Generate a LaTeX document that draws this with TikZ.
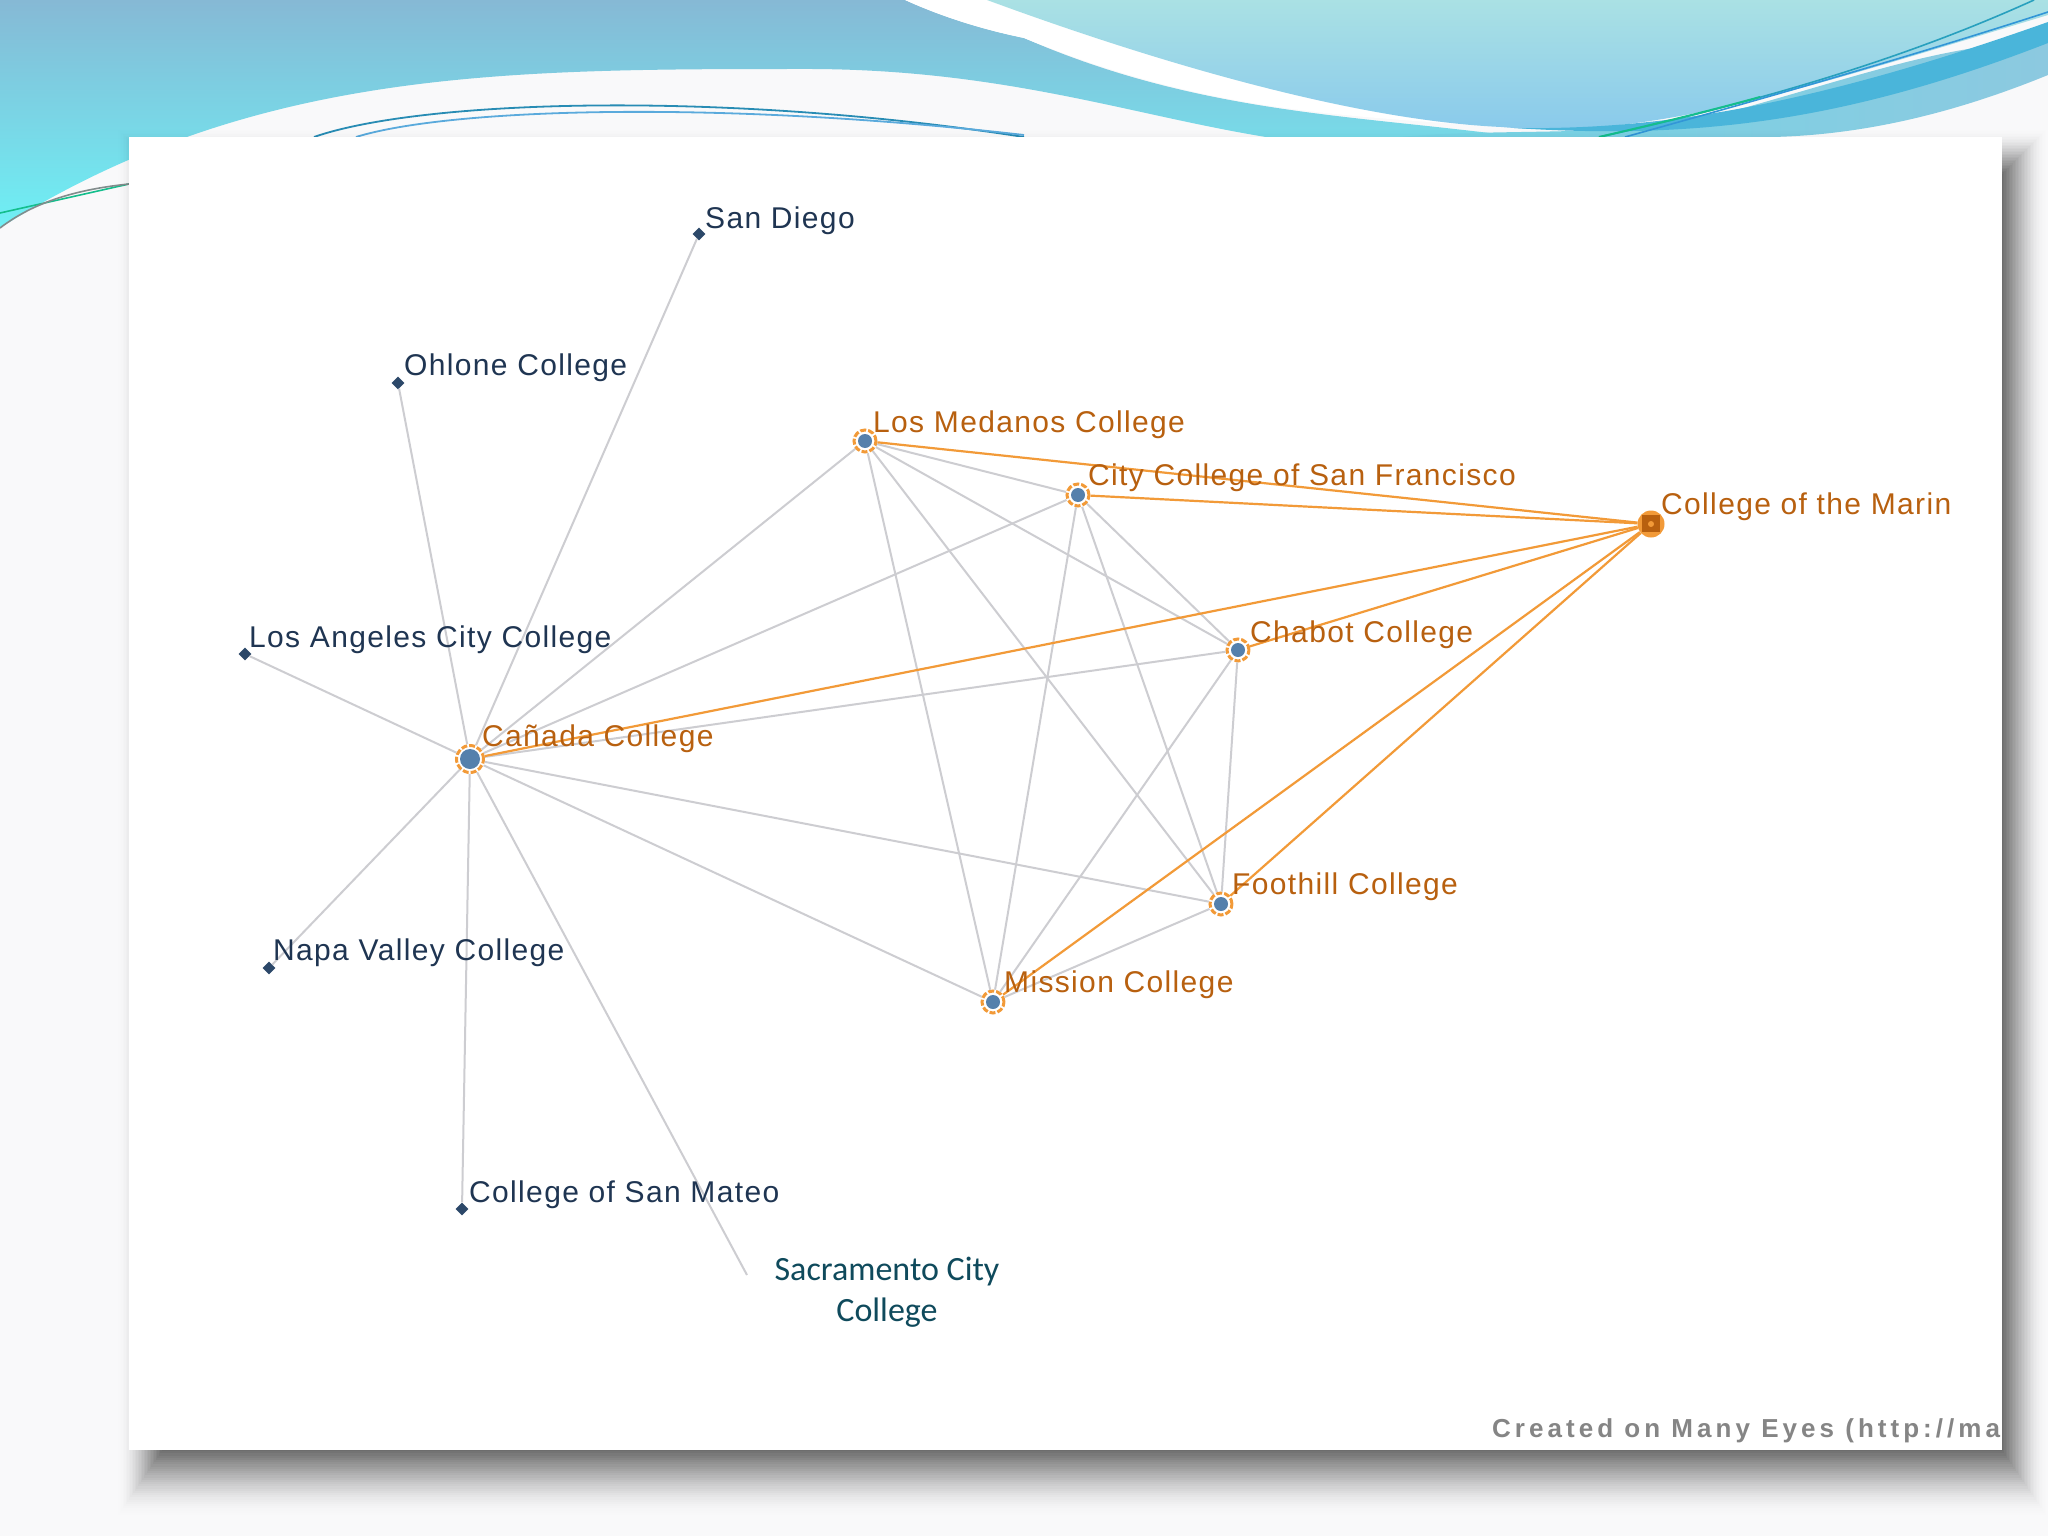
\documentclass[tikz,border=0pt]{standalone}
\usepackage{fontspec}
\usetikzlibrary{shapes.geometric}
\setmainfont{Liberation Sans}
\newfontfamily\calfont{Carlito}
\newfontfamily\labfont[LetterSpace=4.5]{Liberation Sans}
\newfontfamily\creditfont[LetterSpace=15.5]{Liberation Sans}
\definecolor{pagebg}{HTML}{F9F9FA}
\definecolor{edgegrey}{HTML}{CDCDD1}
\definecolor{edgeorange}{HTML}{F29A38}
\definecolor{laborange}{HTML}{B8600F}
\definecolor{labnavy}{HTML}{1F3552}
\definecolor{dotblue}{HTML}{5580AC}
\definecolor{sacteal}{HTML}{0F4A5C}
\definecolor{leftTop}{HTML}{86B9D5}
\definecolor{leftBot}{HTML}{6EF0F5}
\definecolor{skyTop}{HTML}{AAE1E4}
\definecolor{skyBot}{HTML}{87C8EC}
\definecolor{cyanband}{HTML}{75D5E5}
\definecolor{paleband}{HTML}{8CC9E0}
\definecolor{ribbonblue}{HTML}{4AB5DA}
\definecolor{lineA}{HTML}{28A0BE}
\definecolor{lineB}{HTML}{3296D7}
\definecolor{lineC}{HTML}{288CB4}
\definecolor{lineD}{HTML}{5AAADC}
\definecolor{lineE}{HTML}{14BE8C}
\definecolor{lineF}{HTML}{828C8C}
\tikzset{
 smalldot/.style={diamond, fill=labnavy!75!dotblue, inner sep=0pt, minimum size=13pt},
 hubdot/.style={circle, fill=white, draw=edgeorange, line width=3pt, dash pattern=on 6pt off 2pt, inner sep=0pt, minimum size=22pt,
  path picture={\fill[dotblue] (path picture bounding box.center) circle (7pt);}},
 bighub/.style={hubdot, minimum size=27pt,
  path picture={\fill[dotblue] (path picture bounding box.center) circle (10pt);}},
 hothub/.style={circle, fill=edgeorange, inner sep=0pt, minimum size=27pt,
  path picture={\fill[laborange] ([shift={(-9pt,-8pt)}]path picture bounding box.center) rectangle ([shift={(9pt,9pt)}]path picture bounding box.center);
   \fill[edgeorange] (path picture bounding box.center) circle (3pt);}},
 namelab/.style={anchor=west, inner sep=0pt, font=\labfont\fontsize{30}{30}\selectfont, text=labnavy},
 hotlab/.style={namelab, text=laborange},
 greyedge/.style={edgegrey, line width=2pt},
 hotedge/.style={edgeorange, line width=2.2pt},
}
\begin{document}
\begin{tikzpicture}[x=1pt,y=-1pt]
\useasboundingbox (0,0) rectangle (2048,1536);
\fill[pagebg] (0,0) rectangle (2048,1536);
% band left of the dip
\shade[top color=leftTop, bottom color=leftBot]
 (0,0) -- (905,0) .. controls (960,25) and (1010,35) .. (1024,38)
 .. controls (1200,115) and (1360,115) .. (1520,137) -- (1266,137)
 .. controls (1130,115) and (1000,68) .. (800,69)
 .. controls (500,69) and (250,70) .. (0,228) -- cycle;
% white ribbon
\fill[white] (905,0) .. controls (960,25) and (1010,35) .. (1024,38)
 .. controls (1200,110) and (1330,115) .. (1501,127)
 .. controls (1350,90) and (1150,45) .. (987,0) -- cycle;
% sky on the right
\shade[top color=skyTop, bottom color=skyBot]
 (987,0) .. controls (1150,60) and (1350,120) .. (1501,127)
 .. controls (1650,140) and (1800,90) .. (2048,15) -- (2048,0) -- cycle;
% lower cyan
\shade[left color=cyanband, right color=paleband]
 (1400,137) .. controls (1500,128) and (1600,137) .. (1700,120)
 .. controls (1850,80) and (1950,40) .. (2048,43) -- (2048,75) .. controls (1950,115) and (1860,135) .. (1772,137) -- cycle;
% blue ribbon
\fill[ribbonblue] (1514,128) .. controls (1650,130) and (1800,110) .. (2048,22)
 -- (2048,43) .. controls (1850,120) and (1700,140) .. (1514,128) -- cycle;
% thin lines
\draw[lineA, line width=1.6pt] (1599,137) .. controls (1720,110) and (1880,70) .. (2034,0);
\draw[lineB, line width=1.6pt] (1625,137) .. controls (1740,105) and (1900,60) .. (2048,12);
\draw[lineE, line width=2pt] (1599,137) .. controls (1647,126) and (1702,113) .. (1760,97);
\draw[lineC, line width=1.8pt] (314,137) .. controls (420,100) and (720,90) .. (1024,137);
\draw[lineD, line width=1.8pt] (356,137) .. controls (450,108) and (720,100) .. (1024,135);
\draw[lineE, line width=1.6pt] (0,213) -- (129,184);
\draw[lineF, line width=1.6pt] (0,228) .. controls (30,205) and (70,190) .. (129,184);
% shadow of the panel
\foreach \i [evaluate=\i as \shadeop using 0.002+0.0016*\i] in {0,...,29}{
 \fill[black, opacity=\shadeop] (118+1.5*\i,130+1.5*\i) rectangle (2046-1.5*\i,1515-2.2*\i);
}
\fill[white] (129,137) rectangle (2002,1450);
\begin{scope}
\clip (129,137) rectangle (2002,1450);
\node[anchor=west, inner sep=0pt, text=black!48, font=\creditfont\bfseries\fontsize{26}{26}\selectfont] (credit) at (1492,1431) {Created on Many Eyes (http://ma};
\end{scope}
% colleges
\node[smalldot] (sandiego) at (699,234){};
\node[smalldot] (ohlone) at (398,383){};
\node[smalldot] (losangeles) at (245,654){};
\node[smalldot] (napa) at (269,968){};
\node[smalldot] (sanmateo) at (462,1209){};
\coordinate (sacramento) at (747,1275);
\node[bighub] (canada) at (470,759){};
\node[hubdot] (medanos) at (865,441){};
\node[hubdot] (ccsf) at (1078,495){};
\node[hubdot] (chabot) at (1238,650){};
\node[hubdot] (foothill) at (1221,904){};
\node[hubdot] (mission) at (993,1002){};
\node[hothub] (marin) at (1651,524){};
\draw[greyedge](canada) -- (sandiego);
\draw[greyedge](canada) -- (ohlone);
\draw[greyedge](canada) -- (losangeles);
\draw[greyedge](canada) -- (napa);
\draw[greyedge](canada) -- (sanmateo);
\draw[greyedge](canada) -- (sacramento);
\draw[greyedge](canada) -- (medanos);
\draw[greyedge](canada) -- (ccsf);
\draw[greyedge](canada) -- (chabot);
\draw[greyedge](canada) -- (foothill);
\draw[greyedge](canada) -- (mission);
\draw[greyedge](medanos) -- (ccsf);
\draw[greyedge](medanos) -- (chabot);
\draw[greyedge](medanos) -- (foothill);
\draw[greyedge](medanos) -- (mission);
\draw[greyedge](ccsf) -- (chabot);
\draw[greyedge](ccsf) -- (foothill);
\draw[greyedge](ccsf) -- (mission);
\draw[greyedge](chabot) -- (foothill);
\draw[greyedge](chabot) -- (mission);
\draw[greyedge](foothill) -- (mission);
\draw[hotedge](medanos) -- (marin);
\draw[hotedge](ccsf) -- (marin);
\draw[hotedge](canada) -- (marin);
\draw[hotedge](chabot) -- (marin);
\draw[hotedge](foothill) -- (marin);
\draw[hotedge](mission) -- (marin);
% names
\node[namelab] (sandiegolab) at (705,221) {San Diego};
\node[namelab] (ohlonelab) at (404,368) {Ohlone College};
\node[namelab] (losangeleslab) at (249,640) {Los Angeles City College};
\node[namelab] (napalab) at (273,953) {Napa Valley College};
\node[namelab] (sanmateolab) at (469,1195) {College of San Mateo};
\node[hotlab] (canadalab) at (482,739) {Cañada College};
\node[hotlab] (medanoslab) at (873,425) {Los Medanos College};
\node[hotlab] (ccsflab) at (1088,478) {City College of San Francisco};
\node[hotlab] (marinlab) at (1661,507) {College of the Marin};
\node[hotlab] (chabotlab) at (1250,635) {Chabot College};
\node[hotlab] (foothilllab) at (1232,887) {Foothill College};
\node[hotlab] (missionlab) at (1004,985) {Mission College};
\node[align=center, font=\calfont\fontsize{34}{41}\selectfont, text=sacteal, inner sep=0pt] (sacramentolab) at (887,1292) {Sacramento City\\College};
\end{tikzpicture}
\end{document}
